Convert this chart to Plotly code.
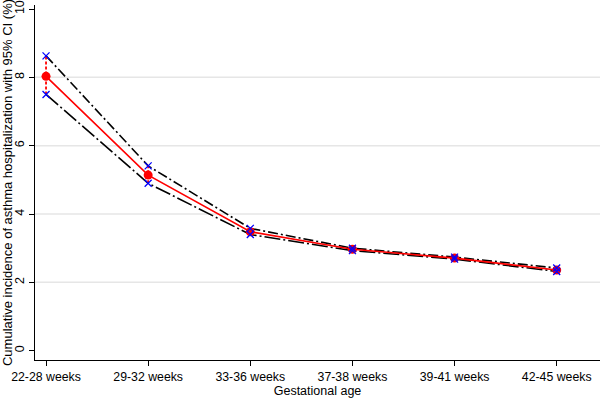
import plotly.graph_objects as go

categories = ["22-28 weeks", "29-32 weeks", "33-36 weeks", "37-38 weeks", "39-41 weeks", "42-45 weeks"]
estimate = [8.03, 5.14, 3.48, 2.97, 2.71, 2.36]
upper_ci = [8.63, 5.41, 3.58, 3.00, 2.74, 2.42]
lower_ci = [7.50, 4.90, 3.40, 2.93, 2.68, 2.32]
y_ticks = [0, 2, 4, 6, 8, 10]
grid_vals = [2, 4, 6, 8]

xs = list(range(len(categories)))
font = "Liberation Sans, Arial, sans-serif"

fig = go.Figure()

# CI lines
fig.add_trace(go.Scatter(x=xs, y=upper_ci, mode="lines",
                         line=dict(color="black", width=1.6, dash="10px,3px,2px,3px"), showlegend=False))
fig.add_trace(go.Scatter(x=xs, y=lower_ci, mode="lines",
                         line=dict(color="black", width=1.6, dash="16px,3px,2px,3px"), showlegend=False))

# vertical dashed CI bars
ex, ey = [], []
for i, lo, hi in zip(xs, lower_ci, upper_ci):
    ex += [i, i, None]
    ey += [lo, hi, None]
fig.add_trace(go.Scatter(x=ex, y=ey, mode="lines",
                         line=dict(color="red", width=1.8, dash="3px,2px"), showlegend=False))

# estimate line
fig.add_trace(go.Scatter(x=xs, y=estimate, mode="lines+markers",
                         line=dict(color="red", width=1.6),
                         marker=dict(color="red", size=9, symbol="circle"), showlegend=False))

# CI end markers
fig.add_trace(go.Scatter(x=xs + xs, y=upper_ci + lower_ci, mode="markers",
                         marker=dict(symbol="x-thin", size=7, line=dict(color="blue", width=1.3)),
                         showlegend=False))

shapes = [dict(type="line", xref="paper", x0=0, x1=1, yref="y", y0=g, y1=g,
               line=dict(color="#e6e6e6", width=1.5), layer="below") for g in grid_vals]

fig.update_layout(
    width=600, height=402,
    margin=dict(l=35, r=0, t=5, b=42),
    paper_bgcolor="white", plot_bgcolor="white",
    font=dict(family=font, size=12, color="black"),
    shapes=shapes,
    xaxis=dict(range=[-0.108, 5.424], tickvals=xs, ticktext=categories, automargin=False,
               showgrid=False, zeroline=False, showline=True, linecolor="black", linewidth=1,
               ticks="outside", ticklen=5, tickcolor="black",
               title=dict(text="Gestational age", font=dict(size=12.5), standoff=1),
               tickfont=dict(size=12.3)),
    yaxis=dict(range=[-0.272, 10.118], tickvals=y_ticks, tickangle=-90, automargin=False,
               showgrid=False, zeroline=False, showline=True, linecolor="black", linewidth=1,
               ticks="outside", ticklen=5, tickcolor="black",
               title=dict(text="Cumulative incidence of asthma hospitalization with 95% CI (%)",
                          font=dict(size=13), standoff=0),
               tickfont=dict(size=12.5)),
)

fig.write_html("out.html", config={"displayModeBar": False},
               post_script="document.body.style.margin='0';document.body.style.padding='0';")
